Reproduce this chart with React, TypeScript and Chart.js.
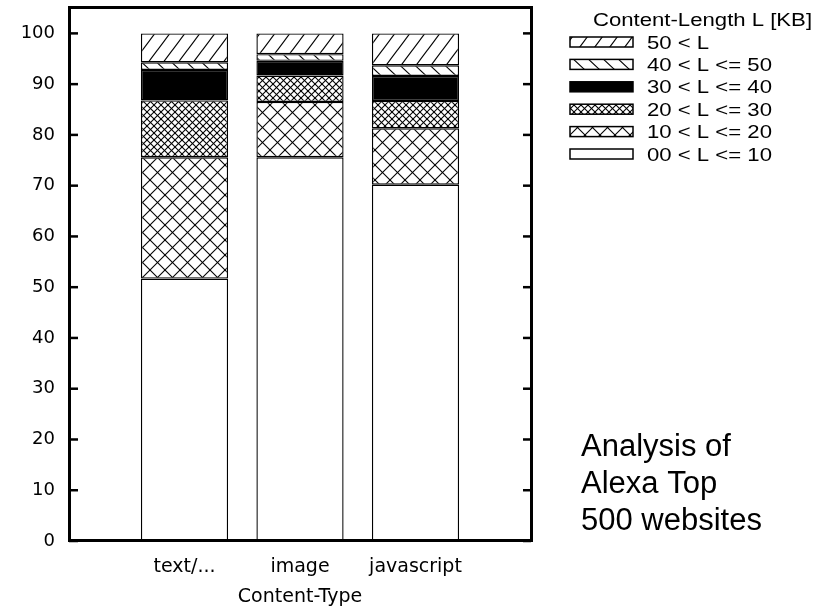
import React, { useEffect, useRef } from 'react';
import { Chart, registerables } from 'chart.js';

Chart.register(...registerables);

// ---- data ----
const categories = ['text/...', 'image', 'javascript'];
const xPositions = [0, 1, 2];
const seriesLabels = ['00 < L <= 10', '10 < L <= 20', '20 < L <= 30', '30 < L <= 40', '40 < L <= 50', '50 < L'];
const upTo10 = [51.7, 75.6, 70.2];
const upTo20 = [23.9, 10.9, 11.1];
const upTo30 = [11.2, 5.2, 5.4];
const upTo40 = [6.0, 2.9, 4.9];
const upTo50 = [1.5, 1.3, 2.1];
const over50 = [5.7, 4.1, 6.3];
const seriesValues = [upTo10, upTo20, upTo30, upTo40, upTo50, over50];
const yTickValues = [0, 10, 20, 30, 40, 50, 60, 70, 80, 90, 100];
const yMax = 105;
const xMin = -1;
const xMax = 3;
const legendTitle = 'Content-Length L [KB]';
const xAxisTitle = 'Content-Type';
const noteLines = ['Analysis of', 'Alexa Top', '500 websites'];
const fillKinds = ['empty', 'cross', 'denseCross', 'solid', 'back', 'forward'];

// ---- patterns ----
function line(c: CanvasRenderingContext2D, x0: number, y0: number, x1: number, y1: number) {
  c.beginPath();
  c.moveTo(x0, y0);
  c.lineTo(x1, y1);
  c.stroke();
}

function tile(w: number, h: number, draw: (c: CanvasRenderingContext2D) => void): CanvasPattern | string {
  const cv = document.createElement('canvas');
  cv.width = w;
  cv.height = h;
  const c = cv.getContext('2d');
  if (!c) return '#fff';
  c.fillStyle = '#fff';
  c.fillRect(0, 0, w, h);
  c.strokeStyle = '#000';
  c.lineWidth = 1.1;
  draw(c);
  return c.createPattern(cv, 'repeat') || '#fff';
}

function makeFill(kind: string): CanvasPattern | string {
  switch (kind) {
    case 'empty':
      return '#ffffff';
    case 'solid':
      return '#000000';
    case 'cross': {
      const s = 15;
      return tile(s, s, (c) => {
        for (const k of [-1, 0, 1]) {
          line(c, k * s - 1, -1, k * s + s + 1, s + 1);
          line(c, k * s - 1, s + 1, k * s + s + 1, -1);
        }
      });
    }
    case 'denseCross': {
      const s = 7;
      return tile(s, s, (c) => {
        for (const k of [-1, 0, 1]) {
          line(c, k * s - 1, -1, k * s + s + 1, s + 1);
          line(c, k * s - 1, s + 1, k * s + s + 1, -1);
        }
      });
    }
    case 'back': {
      const w = 15, h = 14;
      return tile(w, h, (c) => {
        for (const k of [-1, 0, 1]) line(c, k * w - w * 0.1, -h * 0.1, k * w + w * 1.1, h * 1.1);
      });
    }
    case 'forward': {
      const w = 15, h = 20;
      return tile(w, h, (c) => {
        for (const k of [-1, 0, 1]) line(c, k * w - w * 0.1, h * 1.1, k * w + w * 1.1, -h * 0.1);
      });
    }
  }
  return '#fff';
}

function drawStretched(ctx: CanvasRenderingContext2D, text: string, x: number, y: number, sx: number, align: CanvasTextAlign) {
  ctx.save();
  ctx.translate(x, y);
  ctx.scale(sx, 1);
  ctx.textAlign = align;
  ctx.fillText(text, 0, 0);
  ctx.restore();
}

const framePlugin = {
  id: 'gpFrame',
  afterDatasetsDraw(chart: any) {
    const { ctx, chartArea: a, scales } = chart;
    const y = scales.y;
    ctx.save();
    ctx.strokeStyle = '#000';
    ctx.lineWidth = 2.5;
    for (const v of yTickValues) {
      const py = y.getPixelForValue(v);
      line(ctx, a.left, py, a.left + 9, py);
      line(ctx, a.right - 8, py, a.right, py);
    }
    ctx.lineWidth = 3;
    ctx.strokeRect(a.left + 0.5, a.top - 0.5, a.right - a.left, a.bottom - a.top);
    ctx.restore();
  },
  afterDraw(chart: any) {
    const { ctx } = chart;
    const datasets = chart.data.datasets;
    ctx.save();
    ctx.fillStyle = '#000';
    ctx.textBaseline = 'alphabetic';
    ctx.font = '18px "Liberation Sans", Arial, sans-serif';
    drawStretched(ctx, legendTitle, 702.5, 26, 1.23, 'center');
    const rowY0 = 42;
    const rowStep = 22.4;
    const boxX = 570;
    const boxW = 63;
    const boxH = 10;
    const n = datasets.length;
    for (let r = 0; r < n; r++) {
      const ds = datasets[n - 1 - r];
      const cy = rowY0 + r * rowStep;
      ctx.fillStyle = ds.backgroundColor;
      ctx.fillRect(boxX, cy - boxH / 2, boxW, boxH);
      ctx.strokeStyle = '#000';
      ctx.lineWidth = 1.5;
      ctx.strokeRect(boxX, cy - boxH / 2, boxW, boxH);
      ctx.fillStyle = '#000';
      drawStretched(ctx, ds.label, 647, cy + 6.5, 1.23, 'left');
    }
    ctx.font = '31px "Liberation Sans", Arial, sans-serif';
    ctx.textAlign = 'left';
    noteLines.forEach((t, i) => ctx.fillText(t, 581, 456 + i * 37));
    ctx.restore();
  },
};

export default function App() {
  const ref = useRef<HTMLCanvasElement | null>(null);

  useEffect(() => {
    const canvas = ref.current;
    if (!canvas) return;
    const datasets = seriesValues.map((vals, si) => ({
      label: seriesLabels[si],
      data: vals.map((v, i) => ({ x: xPositions[i], y: v })),
      backgroundColor: makeFill(fillKinds[si]) as any,
      borderColor: '#000',
      borderWidth: 1.4,
      borderSkipped: false as any,
      barPercentage: 0.755,
      categoryPercentage: 1,
    }));
    const chart = new Chart(canvas, {
      type: 'bar',
      data: { datasets: datasets as any },
      options: {
        animation: false,
        responsive: false,
        devicePixelRatio: 1,
        events: [],
        layout: { padding: { left: 0, right: 832 - 531, top: 8, bottom: 0 } },
        plugins: { legend: { display: false }, tooltip: { enabled: false } },
        scales: {
          x: {
            type: 'linear',
            min: xMin,
            max: xMax,
            offset: false,
            stacked: true,
            afterBuildTicks: (s: any) => {
              s.ticks = xPositions.map((v) => ({ value: v }));
            },
            afterFit: (s: any) => {
              s.height = 69;
              s.paddingLeft = 0;
              s.paddingRight = 0;
              s.paddingTop = 0;
              s.paddingBottom = 0;
            },
            ticks: {
              callback: (v: any) => categories[v as number] ?? '',
              font: { family: '"DejaVu Sans"', size: 19 },
              color: '#000',
              padding: 15,
              maxRotation: 0,
              autoSkip: false,
            },
            grid: { display: false, drawTicks: false },
            border: { display: false },
            title: {
              display: true,
              text: xAxisTitle,
              color: '#000',
              font: { family: '"DejaVu Sans"', size: 19 },
              padding: { top: 0, bottom: 2 },
            },
          } as any,
          y: {
            type: 'linear',
            min: 0,
            max: yMax,
            stacked: true,
            afterBuildTicks: (s: any) => {
              s.ticks = yTickValues.map((v) => ({ value: v }));
            },
            afterFit: (s: any) => {
              s.width = 69;
              s.paddingLeft = 0;
              s.paddingRight = 0;
              s.paddingTop = 0;
              s.paddingBottom = 0;
            },
            ticks: {
              font: { family: '"DejaVu Sans"', size: 18 },
              color: '#000',
              padding: 14,
            },
            grid: { display: false, drawTicks: false },
            border: { display: false },
          } as any,
        },
      },
      plugins: [framePlugin as any],
    });
    return () => chart.destroy();
  }, []);

  return (
    <div style={{ position: 'absolute', left: 0, top: 0, width: 832, height: 610, background: '#fff' }}>
      <canvas ref={ref} width={832} height={610} style={{ display: 'block', width: 832, height: 610 }} />
    </div>
  );
}
